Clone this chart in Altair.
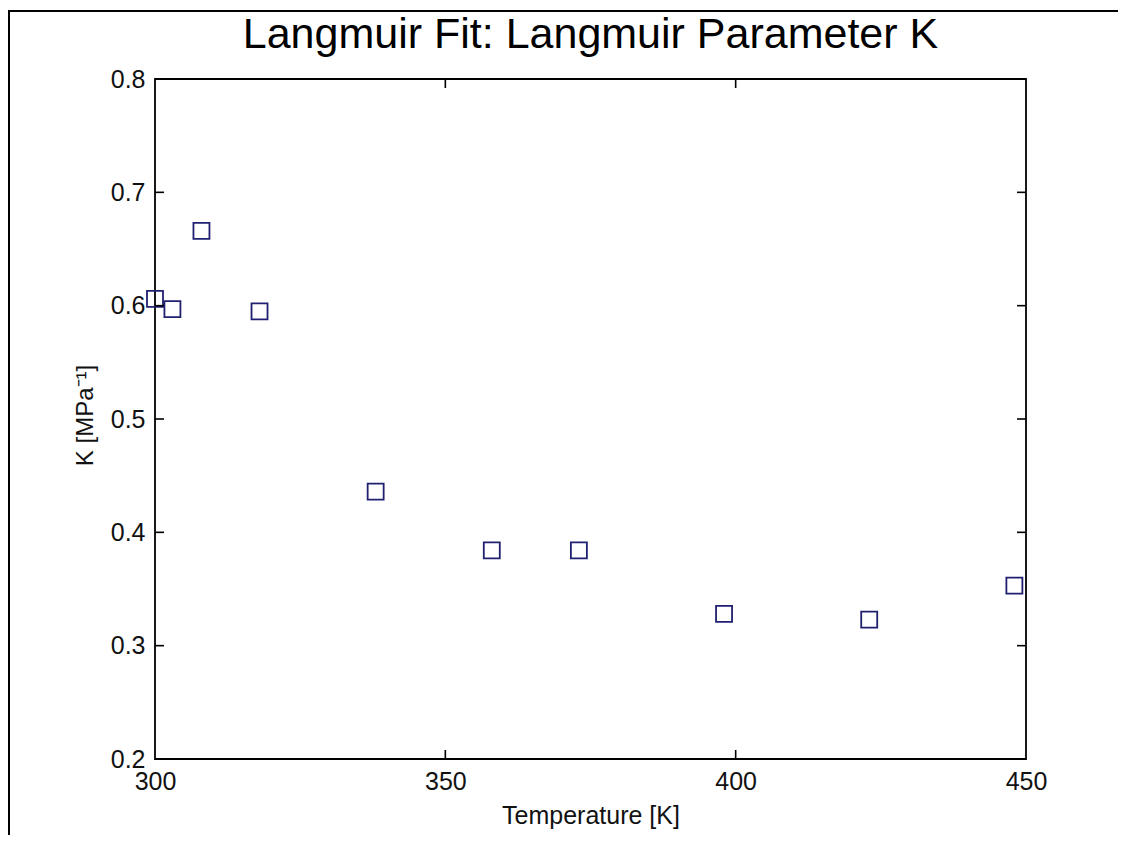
import altair as alt
import pandas as pd

# Data
temperature = [300, 303, 308, 318, 338, 358, 373, 398, 423, 448]
k_param = [0.606, 0.597, 0.666, 0.595, 0.436, 0.384, 0.384, 0.328, 0.323, 0.353]

x_ticks = [300, 350, 400, 450]
y_ticks = [0.2, 0.3, 0.4, 0.5, 0.6, 0.7, 0.8]
x_inner_ticks = [350, 400]
y_inner_ticks = [0.3, 0.4, 0.5, 0.6, 0.7]

FONT = "Liberation Sans"
W, H = 871, 680

df = pd.DataFrame({"T": temperature, "K": k_param})
xs = alt.Scale(domain=[300, 450], nice=False, zero=False)
ys = alt.Scale(domain=[0.2, 0.8], nice=False, zero=False)

points = alt.Chart(df).mark_point(
    shape="square", filled=False, size=256, strokeWidth=1.8, color="#202070", opacity=1
).encode(
    x=alt.X("T:Q", scale=xs, axis=alt.Axis(
        values=x_ticks, title="Temperature [K]", ticks=False, domain=False, grid=False,
        labelPadding=10, labelFontSize=25, labelFont=FONT, labelColor="#111",
        titleFontSize=25, titleFont=FONT, titleFontWeight="normal", titleColor="#111",
        titleX=W / 2, titleY=56, titleBaseline="middle", titleAnchor="middle",
        labelFlush=False)),
    y=alt.Y("K:Q", scale=ys, axis=alt.Axis(
        values=y_ticks, format=".1f", title="K [MPa⁻¹]", ticks=False, domain=False, grid=False,
        labelPadding=10, labelFontSize=25, labelFont=FONT, labelColor="#111",
        titleFontSize=24, titleFont=FONT, titleFontWeight="normal", titleColor="#111",
        titleX=-70, titleY=336, titleBaseline="middle", titleAlign="center", titleAngle=270,
        labelFlush=False)),
)

xt = pd.DataFrame({"xt": x_inner_ticks})
yt = pd.DataFrame({"yt": y_inner_ticks})
TL = 9
tick_style = dict(color="black", strokeWidth=1.6)

bottom_ticks = alt.Chart(xt).mark_rule(**tick_style).encode(
    x=alt.X("xt:Q", scale=xs), y=alt.value(H), y2=alt.value(H - TL))
top_ticks = alt.Chart(xt).mark_rule(**tick_style).encode(
    x=alt.X("xt:Q", scale=xs), y=alt.value(0), y2=alt.value(TL))
left_ticks = alt.Chart(yt).mark_rule(**tick_style).encode(
    y=alt.Y("yt:Q", scale=ys), x=alt.value(0), x2=alt.value(TL))
right_ticks = alt.Chart(yt).mark_rule(**tick_style).encode(
    y=alt.Y("yt:Q", scale=ys), x=alt.value(W), x2=alt.value(W - TL))

frame_df = pd.DataFrame({"f": [0]})
frame_left = alt.Chart(frame_df).mark_rule(color="black", strokeWidth=2, clip=False).encode(
    x=alt.value(-146), y=alt.value(-68), y2=alt.value(H + 80))
frame_top = alt.Chart(frame_df).mark_rule(color="black", strokeWidth=2, clip=False).encode(
    x=alt.value(-147), x2=alt.value(W + 92), y=alt.value(-68))

chart = alt.layer(
    points, bottom_ticks, top_ticks, left_ticks, right_ticks, frame_left, frame_top
).properties(
    width=W, height=H,
    title=alt.TitleParams(
        "Langmuir Fit: Langmuir Parameter K", fontSize=43, font=FONT, fontWeight="normal",
        color="black", anchor="middle", baseline="alphabetic", frame="group", offset=28,
        dy=109),
    autosize=alt.AutoSizeParams(type="none"),
    padding={"left": 147, "top": 71, "right": 92, "bottom": 76},
    background="white",
).configure_view(
    stroke="black", strokeWidth=1.8
)

chart.save("out.html", embed_options={"renderer": "svg", "actions": False})
